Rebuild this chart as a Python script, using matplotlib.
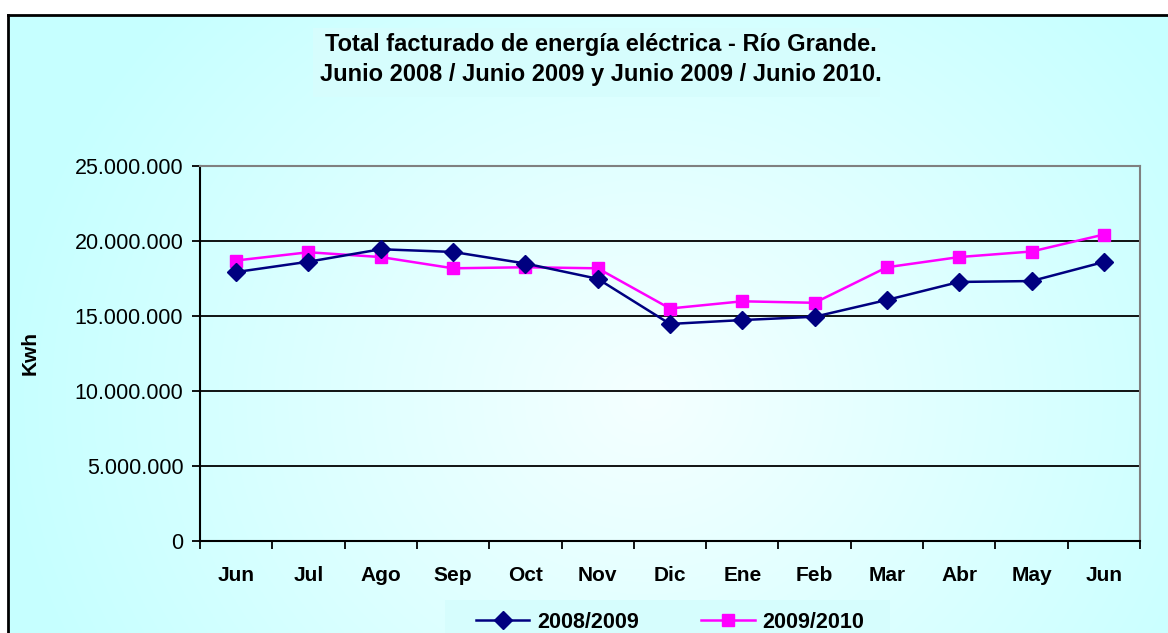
import numpy as np
import matplotlib
matplotlib.use("Agg")
import matplotlib.pyplot as plt
from matplotlib.ticker import FuncFormatter, MultipleLocator, FixedLocator
from matplotlib.patches import Rectangle

# Data (Kwh)
months = ["Jun", "Jul", "Ago", "Sep", "Oct", "Nov", "Dic", "Ene", "Feb", "Mar", "Abr", "May", "Jun"]
kwh_2008_2009 = [17930000, 18620000, 19450000, 19270000, 18500000, 17480000, 14470000,
                 14730000, 14950000, 16070000, 17270000, 17330000, 18600000]
kwh_2009_2010 = [18700000, 19250000, 18930000, 18180000, 18250000, 18180000, 15500000,
                 15980000, 15880000, 18250000, 18930000, 19300000, 20430000]

plt.rcParams['font.family'] = ['Liberation Sans', 'DejaVu Sans']

W, H = 1168, 633
fig = plt.figure(figsize=(W / 100, H / 100), dpi=100)
fig.patch.set_facecolor("white")

# background panel with a soft radial gradient
bg = fig.add_axes([8 / W, 0, 1 - 8 / W, (H - 15) / H])
bg.set_zorder(-10)
yy, xx = np.mgrid[0:300, 0:600]
cx, cy = 0.55 * 600, 0.62 * 300
d = np.sqrt(((xx - cx) / 600) ** 2 + ((yy - cy) / 300 * 0.6) ** 2)
t = np.clip(d / 0.55, 0, 1)
c_in = np.array([0.96, 1.0, 1.0])
c_out = np.array([0.78, 1.0, 1.0])
img = c_in[None, None, :] * (1 - t[..., None]) + c_out[None, None, :] * t[..., None]
bg.imshow(img, aspect="auto", extent=[0, 1, 0, 1], origin="upper")
bg.set_xlim(0, 1)
bg.set_ylim(0, 1)
bg.set_xticks([])
bg.set_yticks([])
for s in ["left", "top"]:
    bg.spines[s].set_linewidth(2)
    bg.spines[s].set_color("black")
for s in ["right", "bottom"]:
    bg.spines[s].set_visible(False)

# title and legend boxes
fig.patches.append(Rectangle((313 / W, 1 - 97 / H), 567 / W, 69 / H, transform=fig.transFigure,
                             facecolor="#d6fdfd", edgecolor="none", zorder=-5))
fig.patches.append(Rectangle((445 / W, 0), 445 / W, 33 / H, transform=fig.transFigure,
                             facecolor="#d6fdfd", edgecolor="none", zorder=-5))

ax = fig.add_axes([200 / W, 92 / H, 940 / W, 375 / H])
ax.set_facecolor("none")
x = np.arange(len(months))

ax.plot(x, kwh_2008_2009, color="#000080", lw=1.8, marker="D", markersize=9,
        label="2008/2009", zorder=4)
ax.plot(x, kwh_2009_2010, color="#ff00ff", lw=1.8, marker="s", markersize=9,
        label="2009/2010", zorder=3)

ax.set_xlim(-0.5, len(months) - 0.5)
ax.set_ylim(0, 25000000)
ax.yaxis.set_major_locator(MultipleLocator(5000000))
ax.yaxis.set_major_formatter(FuncFormatter(lambda v, p: f"{int(v):,}".replace(",", ".")))
ax.grid(True, axis="y", color="black", lw=1.3)
ax.set_axisbelow(True)

ax.set_xticks(x)
ax.set_xticklabels(months, fontweight="bold", fontsize=15)
ax.tick_params(axis="x", length=0, pad=18)
ax.xaxis.set_minor_locator(FixedLocator(np.arange(-0.5, len(months), 1)))
ax.tick_params(axis="x", which="minor", length=6, width=1.3, direction="out")
ax.tick_params(axis="y", length=6, width=1.3, direction="out", labelsize=15.5, pad=6)

ax.spines["left"].set_linewidth(1.5)
ax.spines["bottom"].set_linewidth(1.5)
ax.spines["top"].set_color("#808080")
ax.spines["right"].set_color("#808080")
ax.spines["top"].set_linewidth(1.5)
ax.spines["right"].set_linewidth(1.5)

fig.text(30 / W, 1 - 353 / H, "Kwh", rotation=90, fontweight="bold", fontsize=15,
         ha="center", va="center")

fig.text(601 / W, 1 - 45 / H, "Total facturado de energía eléctrica - Río Grande.",
         fontweight="bold", fontsize=17, ha="center", va="center")
fig.text(601 / W, 1 - 75 / H, "Junio 2008 / Junio 2009 y Junio 2009 / Junio 2010.",
         fontweight="bold", fontsize=17, ha="center", va="center")

fig.legend(loc="center", bbox_to_anchor=(670 / W, 1 - 622 / H), ncol=2, frameon=False,
           prop={"weight": "bold", "size": 15.5}, handlelength=2.5, columnspacing=2.9,
           handletextpad=0.35, borderaxespad=0)

fig.savefig("out.png", dpi=100)
